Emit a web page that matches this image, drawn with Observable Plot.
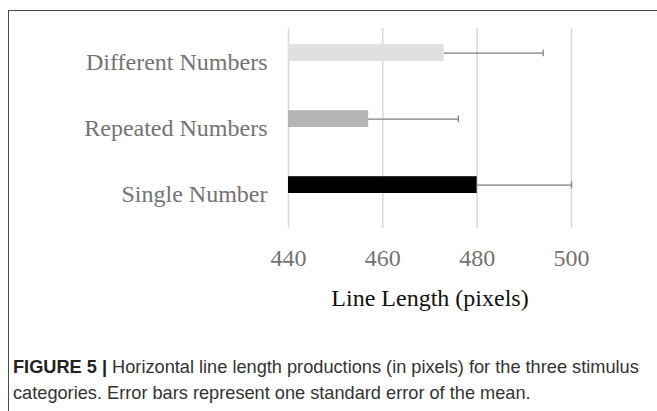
<!DOCTYPE html>
<html><head><meta charset="utf-8">
<script src="https://cdn.jsdelivr.net/npm/d3@7"></script>
<script src="https://cdn.jsdelivr.net/npm/@observablehq/plot@0.6"></script>
<style>
html,body{margin:0;padding:0;background:#fff;}
#wrap{position:relative;width:657px;height:411px;overflow:hidden;}
#box{position:absolute;left:8px;top:10px;right:-2px;bottom:-2px;border-top:1.5px solid #4a4a4a;border-left:1.5px solid #4a4a4a;}
#chart{position:absolute;left:0;top:0;}
#cap{position:absolute;left:13px;top:354px;width:644px;font-family:"Liberation Sans",Arial,sans-serif;font-size:18.2px;line-height:26px;color:#333;}
#cap div{white-space:nowrap;}
#cap b{color:#222;}
</style></head><body>
<div id="wrap"><div id="box"></div><div id="chart"></div>
<div id="cap"><div><b>FIGURE 5 |</b> <span>Horizontal line length productions (in pixels) for the three stimulus</span></div><div>categories. Error bars represent one standard error of the mean.</div></div></div>
<script>
const categories = ["Different Numbers", "Repeated Numbers", "Single Number"];
const means = [473, 457, 480];
const errorEnds = [494, 476, 500];
const barColors = ["#e0e0e0", "#b5b5b5", "#000000"];
const xTicks = [440, 460, 480, 500];

const data = categories.map((c, i) => ({cat: c, mean: means[i], err: errorEnds[i], color: barColors[i]}));

const chart = Plot.plot({
  width: 657, height: 330,
  marginLeft: 288, marginRight: 86, marginTop: 28, marginBottom: 102,
  style: {fontFamily: "'Liberation Serif', 'DejaVu Serif', serif", fontSize: "24px", background: "transparent"},
  x: {domain: [440, 500], ticks: xTicks},
  y: {domain: categories, padding: 0},
  marks: [
    Plot.gridX(xTicks, {stroke: "#d9d9d9", strokeOpacity: 1, strokeWidth: 1.5}),
    Plot.barX(data, {y: "cat", x1: 440, x2: "mean", fill: "color", insetTop: 15.2, insetBottom: 34}),
    Plot.ruleY(data, {y: "cat", x1: "mean", x2: "err", stroke: "#7f7f7f", strokeWidth: 1.3, dy: -9.3}),
    Plot.tickX(data, {y: "cat", x: "err", stroke: "#7f7f7f", strokeWidth: 1.3, insetTop: 20.5, insetBottom: 38.8}),
    Plot.axisX({ticks: xTicks, tickSize: 0, tickPadding: 20, fill: "#737373", label: null, fontSize: 24}),
    Plot.axisY({tickSize: 0, tickPadding: 21, fill: "#737373", label: null, fontSize: 24}),
    Plot.text(["Line Length (pixels)"], {frameAnchor: "bottom", dy: 77, fill: "#111", fontSize: 24})
  ]
});
document.getElementById("chart").appendChild(chart);
</script>
</body></html>
